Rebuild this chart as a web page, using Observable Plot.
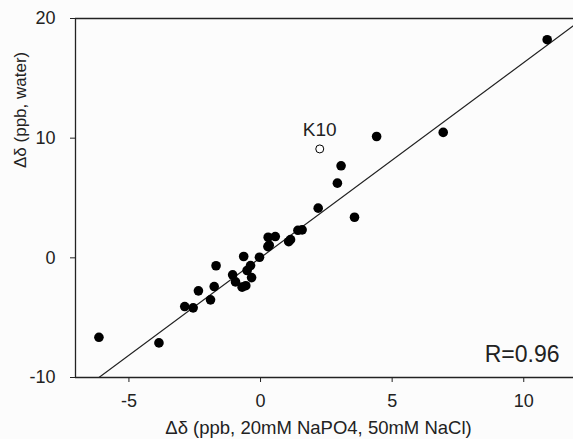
<!DOCTYPE html>
<html>
<head>
<meta charset="utf-8">
<script src="https://cdn.jsdelivr.net/npm/d3@7"></script>
<script src="https://cdn.jsdelivr.net/npm/@observablehq/plot@0.6"></script>
<style>
  html, body { margin: 0; padding: 0; background: #fcfcfc; overflow: hidden; }
  #chart svg { display: block; }
</style>
</head>
<body>
<div id="chart"></div>
<script>
// Filled points: Δδ in 20mM NaPO4/50mM NaCl (x) vs Δδ in water (y), ppb
const xSalt = [-6.14, -3.86, -2.88, -2.56, -2.36, -1.90, -1.76, -1.69, -1.06, -0.95,
  -0.64, -0.70, -0.56, -0.51, -0.38, -0.34, -0.04, 0.28, 0.33, 0.29,
  0.56, 1.07, 1.14, 1.42, 1.58, 2.19, 2.92, 3.06, 3.57, 4.41, 6.94, 10.89];
const yWater = [-6.64, -7.11, -4.07, -4.18, -2.76, -3.51, -2.40, -0.66, -1.42, -2.01,
  0.11, -2.45, -2.33, -1.06, -0.65, -1.65, 0.05, 0.94, 1.05, 1.72,
  1.78, 1.35, 1.52, 2.30, 2.34, 4.15, 6.24, 7.69, 3.39, 10.14, 10.48, 18.23];
// Outlier (open circle)
const outlierName = ["K10"];
const outlierX = [2.25];
const outlierY = [9.1];
// Regression line
const fitSlope = 1.631;
const fitIntercept = 0.014;
const rLabel = ["R=0.96"];
const xTicks = [-5, 0, 5, 10];
const yTicks = [-10, 0, 10, 20];
const xDomain = [-7.03, 11.89];
const yDomain = [-10, 20];
const xLabel = ["Δδ (ppb, 20mM NaPO4, 50mM NaCl)"];
const yLabel = ["Δδ (ppb, water)"];

const points = xSalt.map((x, i) => ({x, y: yWater[i]}));
const outliers = outlierName.map((n, i) => ({name: n, x: outlierX[i], y: outlierY[i]}));
const xStart = (yDomain[0] - fitIntercept) / fitSlope;
const fitLine = [xStart, xDomain[1]].map(x => ({x, y: fitSlope * x + fitIntercept}));

const ink = "#222";
const font = "Liberation Sans, Arial, sans-serif";
const fmt = d => String(d);

const chart = Plot.plot({
  width: 573,
  height: 439,
  marginLeft: 75,
  marginRight: 0,
  marginTop: 18,
  marginBottom: 62,
  style: {background: "transparent", fontFamily: font, color: ink},
  x: {domain: xDomain},
  y: {domain: yDomain},
  marks: [
    Plot.axisX({ticks: xTicks, tickFormat: fmt, tickSize: 5, tickPadding: 12, fontSize: 18, label: null, stroke: ink, fill: ink}),
    Plot.axisY({ticks: yTicks, tickFormat: fmt, tickSize: 5, tickPadding: 15, fontSize: 18, label: null, stroke: ink, fill: ink}),
    Plot.ruleY([yDomain[0], yDomain[1]], {stroke: ink, strokeWidth: 1.3}),
    Plot.ruleX([xDomain[0]], {stroke: ink, strokeWidth: 1.3}),
    Plot.line(fitLine, {x: "x", y: "y", stroke: ink, strokeWidth: 1.2, clip: true}),
    Plot.dot(points, {x: "x", y: "y", r: 4.8, fill: "#000", stroke: null}),
    Plot.dot(outliers, {x: "x", y: "y", r: 4, fill: "#fff", stroke: "#000", strokeWidth: 1}),
    Plot.text(outliers, {x: "x", y: "y", text: "name", dy: -19, fontSize: 19, fill: ink}),
    Plot.text(rLabel, {frameAnchor: "bottom-right", dx: -14, dy: -23, textAnchor: "end", lineAnchor: "middle", fontSize: 23, letterSpacing: 1, fill: ink, text: d => d, style: "letter-spacing:1px"}),
    Plot.text(xLabel, {frameAnchor: "bottom", dx: -6, dy: 51, lineAnchor: "middle", fontSize: 18.5, fill: ink, text: d => d}),
    Plot.text(yLabel, {frameAnchor: "left", dx: -55, dy: -30, rotate: -90, lineAnchor: "middle", fontSize: 17, fill: ink, text: d => d})
  ]
});
document.getElementById("chart").appendChild(chart);
</script>
</body>
</html>
